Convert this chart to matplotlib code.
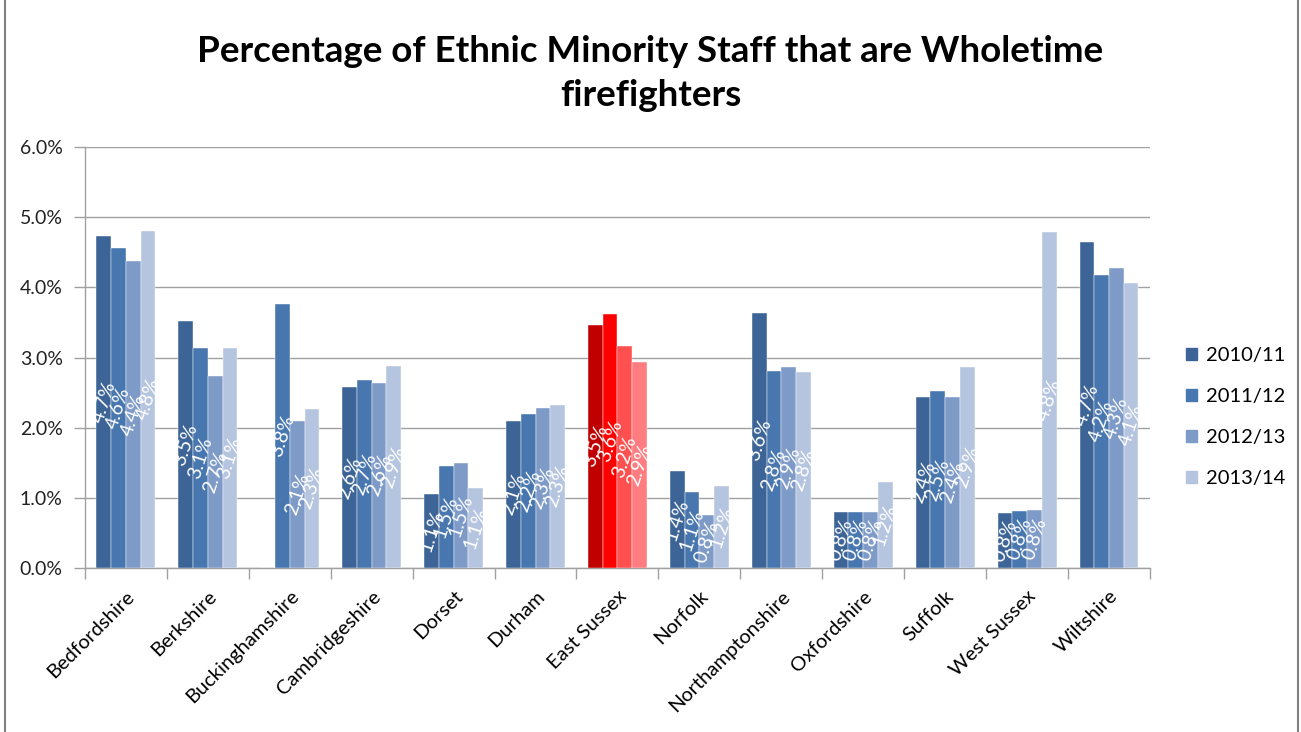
import numpy as np
import matplotlib
matplotlib.use("Agg")
import matplotlib.pyplot as plt
from matplotlib.ticker import FuncFormatter, FixedLocator
from matplotlib.lines import Line2D

plt.rcParams['font.family'] = ['Lato', 'DejaVu Sans']

counties = ["Bedfordshire", "Berkshire", "Buckinghamshire", "Cambridgeshire",
            "Dorset", "Durham", "East Sussex", "Norfolk", "Northamptonshire",
            "Oxfordshire", "Suffolk", "West Sussex", "Wiltshire"]
years = ["2010/11", "2011/12", "2012/13", "2013/14"]

y2010 = [4.74, 3.52, 0.0, 2.58, 1.05, 2.10, 3.47, 1.38, 3.64, 0.80, 2.44, 0.78, 4.65]
y2011 = [4.56, 3.14, 3.77, 2.68, 1.46, 2.19, 3.62, 1.08, 2.81, 0.80, 2.52, 0.82, 4.18]
y2012 = [4.37, 2.74, 2.10, 2.64, 1.50, 2.28, 3.16, 0.76, 2.86, 0.80, 2.44, 0.83, 4.27]
y2013 = [4.81, 3.13, 2.27, 2.88, 1.14, 2.33, 2.94, 1.17, 2.80, 1.22, 2.87, 4.79, 4.07]

blues = ["#3C6496", "#4876AE", "#7E9BC8", "#B5C4DF"]
reds = ["#C00000", "#FF0000", "#FF5050", "#FF7C80"]
highlight = "East Sussex"

series = [y2010, y2011, y2012, y2013]

fig = plt.figure(figsize=(13.01, 7.32), dpi=100)
ax = fig.add_axes([0.0653, 0.224, 0.8186, 0.575])

x = np.arange(len(counties))
w = 0.18
for i, (vals, yr) in enumerate(zip(series, years)):
    pos = x + (i - 1.5) * w
    cols = [reds[i] if c == highlight else blues[i] for c in counties]
    ax.bar(pos, vals, width=w, color=cols, label=yr, zorder=3,
           edgecolor="white", linewidth=0.3)
    for p, v in zip(pos, vals):
        if v <= 0:
            continue
        ax.text(p, v / 2, f"{v:.1f}%", rotation=72, ha="center", va="center",
                color="white", fontsize=14, zorder=4,
                rotation_mode="anchor")

ax.set_xlim(-0.5, len(counties) - 0.5)
ax.set_ylim(0, 6)
ax.yaxis.set_major_locator(FixedLocator(np.arange(0, 6.01, 1)))
ax.yaxis.set_major_formatter(FuncFormatter(lambda v, _: f"{v:.1f}%"))
ax.grid(axis="y", color="#A0A0A0", linewidth=1.0, zorder=0)

ax.set_xticks(x)
ax.set_xticklabels(counties, rotation=45, ha="right", rotation_mode="anchor",
                   fontsize=14.5)
ax.tick_params(axis="x", length=0, pad=14)
ax.set_xticks(np.arange(-0.5, len(counties) + 0.5, 1), minor=True)
ax.tick_params(axis="x", which="minor", length=8, color="#A0A0A0", width=1)
ax.tick_params(axis="y", length=8, color="#A0A0A0", width=1, labelsize=14,
               pad=8, labelcolor="#222222")

for s in ["top", "right"]:
    ax.spines[s].set_visible(False)
for s in ["left", "bottom"]:
    ax.spines[s].set_color("#A0A0A0")
    ax.spines[s].set_linewidth(1.0)

handles = [plt.Rectangle((0, 0), 1, 1, color=c) for c in blues]
fig.legend(handles, years, loc="center left", bbox_to_anchor=(0.898, 0.43),
           frameon=False, fontsize=14.5, handlelength=0.55, handleheight=0.55,
           handletextpad=0.4, labelspacing=1.2)

fig.text(0.5, 0.9, "Percentage of Ethnic Minority Staff that are Wholetime\nfirefighters",
         ha="center", va="center", fontsize=26.5, fontweight="bold",
         linespacing=1.4)

fig.add_artist(Line2D([0.004, 0.004], [0, 1], transform=fig.transFigure,
                      color="#7F7F7F", linewidth=1.5))
fig.add_artist(Line2D([0.998, 0.998], [0, 1], transform=fig.transFigure,
                      color="#7F7F7F", linewidth=1.5))

fig.savefig("out.png", dpi=100)
